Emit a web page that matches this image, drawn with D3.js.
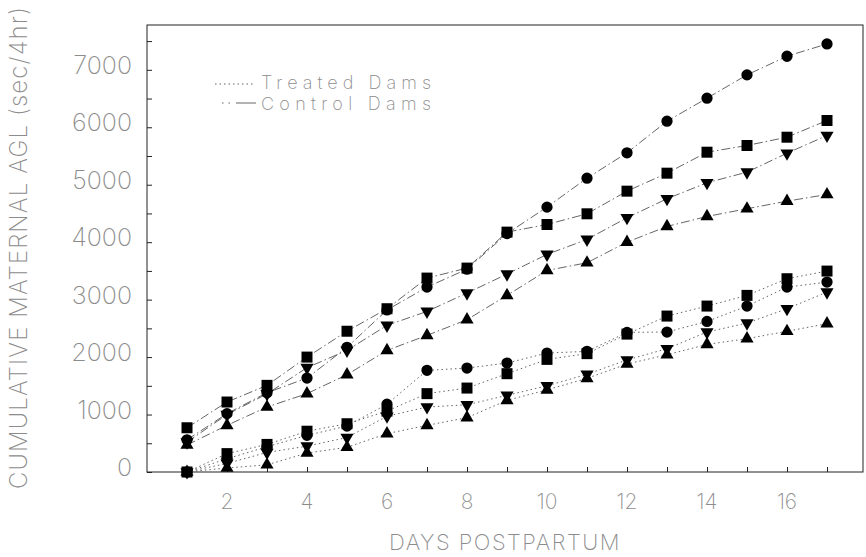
<!DOCTYPE html>
<html>
<head>
<meta charset="utf-8">
<script src="https://cdn.jsdelivr.net/npm/d3@7"></script>
<style>
body { margin: 0; background: white; }
text { font-family: "Inter", "Liberation Sans", sans-serif; font-weight: 200; fill: #8c8c8c; }
</style>
</head>
<body>
<script>
let width = 866;
let height = 557;

let days = [1, 2, 3, 4, 5, 6, 7, 8, 9, 10, 11, 12, 13, 14, 15, 16, 17];
let xTickLabels = [2, 4, 6, 8, 10, 12, 14, 16];
let yTickLabels = [0, 1000, 2000, 3000, 4000, 5000, 6000, 7000];

// control dams (dash-dot lines)
let controlCircle = [560, 1016, 1380, 1635, 2170, 2820, 3218, 3530, 4150, 4610, 5114, 5555, 6106, 6506, 6912, 7236, 7451];
let controlSquare = [770, 1218, 1508, 2000, 2450, 2842, 3375, 3549, 4175, 4308, 4494, 4888, 5201, 5566, 5683, 5827, 6118];
let controlDown = [520, 1000, 1360, 1816, 2117, 2552, 2795, 3114, 3445, 3787, 4048, 4425, 4756, 5034, 5219, 5549, 5857];
let controlUp = [470, 812, 1131, 1364, 1694, 2117, 2378, 2651, 3074, 3508, 3642, 4001, 4274, 4448, 4582, 4714, 4830];

// treated dams (dotted lines)
let treatedCircle = [0, 230, 440, 638, 800, 1180, 1769, 1809, 1896, 2070, 2100, 2430, 2436, 2621, 2888, 3218, 3305];
let treatedSquare = [0, 320, 480, 710, 840, 1060, 1364, 1461, 1711, 1960, 2060, 2400, 2714, 2888, 3074, 3364, 3497];
let treatedDown = [0, 150, 340, 450, 600, 970, 1131, 1170, 1334, 1500, 1700, 1950, 2146, 2436, 2592, 2842, 3131];
let treatedUp = [0, 70, 125, 330, 430, 668, 812, 946, 1247, 1430, 1630, 1880, 2040, 2221, 2320, 2450, 2581];

let series = [
    { values: treatedCircle, shape: "circle", group: "treated" },
    { values: treatedSquare, shape: "square", group: "treated" },
    { values: treatedDown, shape: "down", group: "treated" },
    { values: treatedUp, shape: "up", group: "treated" },
    { values: controlCircle, shape: "circle", group: "control" },
    { values: controlSquare, shape: "square", group: "control" },
    { values: controlDown, shape: "down", group: "control" },
    { values: controlUp, shape: "up", group: "control" },
];

let plotLeft = 147, plotRight = 863, plotTop = 25, plotBottom = 472;

let svg = d3.select("body")
    .append("svg")
    .attr("width", width)
    .attr("height", height);

let x = d3.scaleLinear().domain([0, 17.9]).range([plotLeft, plotRight]);
let y = d3.scaleLinear().domain([0, 7780]).range([plotBottom, plotTop]);

let dashFor = { treated: "1.5,3", control: "9,3,1.5,3" };

let line = d3.line()
    .x(function(d, i) { return x(days[i]); })
    .y(function(d) { return y(d); });

// frame
svg.append("rect")
    .attr("x", plotLeft)
    .attr("y", plotTop)
    .attr("width", plotRight - plotLeft)
    .attr("height", plotBottom - plotTop)
    .attr("fill", "none")
    .attr("stroke", "#222")
    .attr("stroke-width", 1);

// ticks pointing inward
let xAxis = svg.append("g")
    .attr("transform", "translate(0," + plotBottom + ")")
    .call(d3.axisBottom(x).tickValues(days).tickSizeInner(-5).tickSizeOuter(0).tickFormat(""));
let yAxis = svg.append("g")
    .attr("transform", "translate(" + plotLeft + ",0)")
    .call(d3.axisLeft(y).tickValues(d3.range(0, 7501, 500)).tickSizeInner(-5).tickSizeOuter(0).tickFormat(""));
[xAxis, yAxis].forEach(function(a) {
    a.select(".domain").remove();
    a.selectAll("line").attr("stroke", "#222");
});

svg.append("g")
    .selectAll("text")
    .data(xTickLabels)
    .enter()
    .append("text")
    .attr("x", function(d) { return x(d); })
    .attr("y", 509)
    .attr("text-anchor", "middle")
    .attr("font-size", 21)
    .text(function(d) { return d; });

svg.append("g")
    .selectAll("text")
    .data(yTickLabels)
    .enter()
    .append("text")
    .attr("x", 132)
    .attr("y", function(d) { return y(d) + 4; })
    .attr("text-anchor", "end")
    .attr("font-size", 25)
    .text(function(d) { return d; });

svg.append("text")
    .attr("x", (plotLeft + plotRight) / 2)
    .attr("y", 550)
    .attr("text-anchor", "middle")
    .attr("font-size", 22)
    .attr("letter-spacing", 1.5)
    .text("DAYS POSTPARTUM");

svg.append("text")
    .attr("transform", "translate(27,248) rotate(-90)")
    .attr("text-anchor", "middle")
    .attr("font-size", 24)
    .attr("textLength", 482)
    .attr("lengthAdjust", "spacing")
    .text("CUMULATIVE MATERNAL AGL (sec/4hr)");

// lines
svg.append("g")
    .selectAll("path")
    .data(series)
    .enter()
    .append("path")
    .attr("d", function(d) { return line(d.values); })
    .attr("fill", "none")
    .attr("stroke", "#666")
    .attr("stroke-width", 1)
    .attr("stroke-dasharray", function(d) { return dashFor[d.group]; });

function symbolPath(shape) {
    if (shape == "circle") return d3.symbol().type(d3.symbolCircle).size(100)();
    if (shape == "square") return d3.symbol().type(d3.symbolSquare).size(121)();
    return d3.symbol().type(d3.symbolTriangle).size(75)();
}

// markers
series.forEach(function(s) {
    svg.append("g")
        .selectAll("path")
        .data(s.values)
        .enter()
        .append("path")
        .attr("d", symbolPath(s.shape))
        .attr("transform", function(d, i) {
            return "translate(" + x(days[i]) + "," + y(d) + ")" + (s.shape == "down" ? " rotate(180)" : "");
        })
        .attr("fill", "black");
});

// legend
let legend = svg.append("g");
legend.append("line")
    .attr("x1", 215).attr("x2", 254)
    .attr("y1", 84).attr("y2", 84)
    .attr("stroke", "#666")
    .attr("stroke-dasharray", dashFor.treated);
legend.append("line")
    .attr("x1", 222).attr("x2", 256)
    .attr("y1", 103).attr("y2", 103)
    .attr("stroke", "#666")
    .attr("stroke-dasharray", "1.5,5,1.5,6,20");
legend.append("text")
    .attr("x", 261)
    .attr("y", 89)
    .attr("font-size", 18)
    .attr("textLength", 170)
    .attr("lengthAdjust", "spacing")
    .text("Treated Dams");
legend.append("text")
    .attr("x", 261)
    .attr("y", 110)
    .attr("font-size", 18)
    .attr("textLength", 170)
    .attr("lengthAdjust", "spacing")
    .text("Control Dams");
</script>
</body>
</html>
